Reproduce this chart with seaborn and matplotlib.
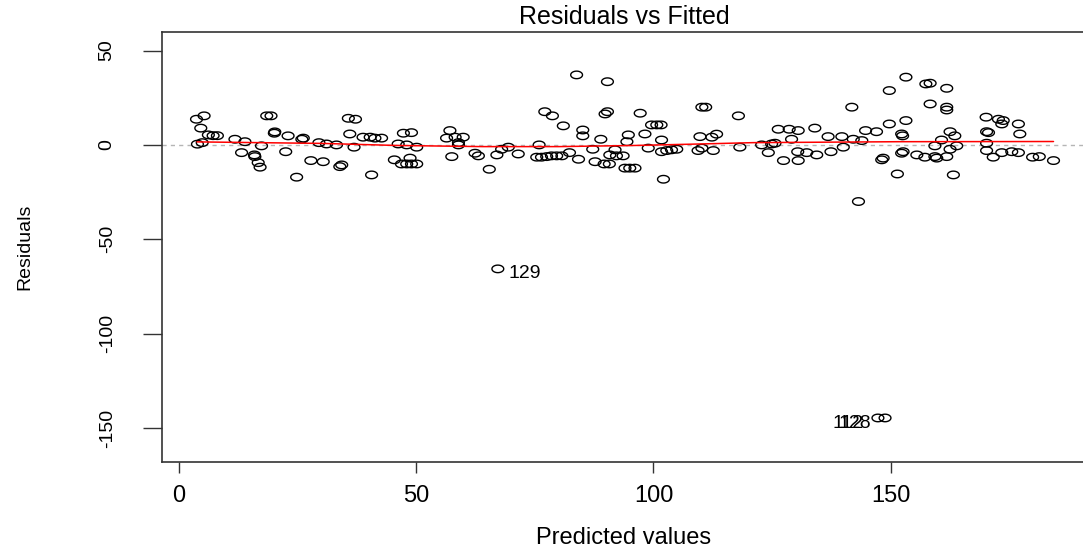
import numpy as np
import pandas as pd
import matplotlib
matplotlib.use('Agg')
import matplotlib.pyplot as plt
from matplotlib.path import Path
import seaborn as sns

# valores (fitted, residuo)
fitted = [3.7, 5.3, 4.6, 6.2, 7.2, 8.1, 3.9, 4.9, 11.8, 13.9,
          13.2, 15.9, 16.0, 16.7, 17.1, 17.4, 18.5, 19.4, 20.1, 20.2,
          23.0, 22.5, 25.9, 26.2, 24.8, 27.8, 30.4, 29.5, 31.1, 33.2,
          33.9, 34.3, 35.7, 37.2, 36.0, 36.9, 38.8, 40.3, 41.3, 42.7,
          40.6, 46.2, 45.4, 47.3, 49.0, 48.0, 50.1, 48.7, 46.9, 48.0,
          49.0, 50.1, 57.1, 56.4, 58.2, 59.9, 58.9, 58.9, 57.5, 62.4,
          63.1, 65.4, 67.0, 68.0, 69.4, 71.5, 75.9, 75.4, 76.4, 77.5,
          78.5, 79.6, 80.7, 82.3, 84.2, 87.2, 87.7, 89.6, 90.7, 91.9,
          90.8, 92.2, 93.6, 94.0, 95.0, 96.1, 83.8, 90.3, 77.1, 78.7,
          90.3, 89.8, 97.2, 81.0, 85.1, 85.1, 88.9, 94.7, 94.4, 98.2,
          99.6, 100.7, 101.6, 101.7, 98.9, 101.7, 102.8, 103.8, 104.9, 102.1,
          110.2, 111.0, 117.9, 109.8, 112.3, 113.3, 109.4, 110.2, 112.6, 118.2,
          122.8, 124.9, 125.6, 124.2, 126.3, 128.6, 130.5, 134.0, 129.1, 127.4,
          130.5, 130.4, 132.3, 134.4, 136.8, 139.7, 142.1, 143.9, 137.4, 140.0,
          144.7, 141.8, 147.0, 153.2, 157.4, 158.3, 161.8, 149.7, 158.3, 161.8,
          161.8, 149.7, 153.2, 152.3, 152.5, 148.4, 148.1, 151.4, 152.6, 152.3,
          155.5, 157.2, 159.3, 159.7, 159.3, 160.7, 162.5, 163.5, 163.9, 162.5,
          161.8, 163.2, 170.1, 172.7, 173.7, 173.4, 176.9, 170.2, 170.6, 177.2,
          170.2, 170.2, 171.6, 173.4, 175.5, 176.9, 179.9, 181.3, 184.3, 143.2]
residuals = [13.6, 15.4, 8.9, 5.3, 4.9, 4.9, 0.4, 1.2, 3.0, 1.7,
             -4.1, -5.3, -6.2, -9.4, -11.8, -0.5, 15.4, 15.4, 6.2, 6.9,
             4.8, -3.6, 3.0, 3.6, -17.1, -8.3, -8.9, 1.2, 0.5, 0.0,
             -11.5, -10.6, 14.1, 13.6, 5.8, -1.2, 4.1, 4.1, 3.6, 3.6,
             -15.9, 0.5, -7.9, 6.2, 6.5, 0.0, -1.2, -7.0, -10.1, -10.1,
             -10.1, -10.1, 7.6, 3.6, 4.1, 4.1, 1.2, 0.0, -6.2, -4.4,
             -5.8, -12.9, -5.3, -2.3, -1.2, -4.8, 0.0, -6.5, -6.5, -6.2,
             -5.8, -5.8, -5.8, -4.1, -7.6, -2.3, -8.9, -10.1, -10.1, -2.6,
             -5.3, -5.8, -5.8, -12.3, -12.3, -12.3, 37.1, 33.5, 17.6, 15.4,
             17.6, 16.4, 16.8, 10.1, 7.9, 4.8, 3.0, 5.3, 1.7, 5.8,
             10.6, 10.6, 10.6, 2.6, -1.7, -3.6, -3.0, -2.6, -2.3, -18.2,
             20.0, 20.0, 15.4, 4.4, 4.1, 5.7, -3.0, -1.7, -3.0, -1.2,
             0.0, 0.5, 0.9, -4.1, 8.3, 8.3, 7.6, 8.9, 3.0, -8.3,
             -8.3, -3.6, -4.1, -5.3, 4.4, 4.4, 3.0, 2.3, -3.6, -1.2,
             7.6, 20.0, 7.0, 35.9, 32.3, 32.7, 30.0, 28.8, 21.7, 20.0,
             18.5, 11.1, 12.9, 5.8, 4.8, -7.0, -7.9, -15.4, -3.6, -4.4,
             -5.3, -6.5, -6.2, -7.0, -0.5, 2.6, 7.0, 4.8, -0.5, -2.3,
             -6.2, -15.9, 14.7, 13.6, 12.9, 11.1, 11.1, 7.0, 6.5, 5.8,
             0.9, -3.0, -6.5, -4.1, -3.6, -4.1, -6.5, -6.2, -8.3, -30.0]

# observacoes identificadas no grafico
outlier_ids = ['129', '112', '128']
outlier_fitted = [67.2, 147.3, 148.8]
outlier_resid = [-65.7, -144.7, -144.7]

# curva suavizada (vermelha)
smooth_x = [3.8, 20, 30, 46, 64, 80, 96, 110, 121, 152, 184.3]
smooth_y = [1.6, 1.1, 0.8, -0.3, -0.9, -0.9, -0.3, 0.5, 1.2, 1.7, 1.8]

df = pd.DataFrame({'fitted': fitted + outlier_fitted,
                   'residuals': residuals + outlier_resid})

sns.set_theme(style='white')
plt.rcParams['font.family'] = ['Liberation Sans', 'DejaVu Sans']
plt.rcParams['axes.unicode_minus'] = False
plt.rcParams['text.color'] = 'black'
plt.rcParams['axes.labelcolor'] = 'black'
plt.rcParams['xtick.labelcolor'] = 'black'
plt.rcParams['ytick.labelcolor'] = 'black'

fig = plt.figure(figsize=(10.83, 5.52), dpi=100)
ax = fig.add_axes([0.1499, 0.1625, 0.8531, 0.7801])

# marcador "circulo" achatado como no original
t = np.linspace(0, 2 * np.pi, 60)
ellipse = Path(np.column_stack([np.cos(t), 0.64 * np.sin(t)]), closed=True)

ax.axhline(0, color='#b5b5b5', lw=1, ls=(0, (3, 3)), zorder=1)
sns.scatterplot(data=df, x='fitted', y='residuals', marker=ellipse, s=72,
                facecolor='none', edgecolor='black', linewidth=1.0,
                ax=ax, zorder=2)
sns.lineplot(x=smooth_x, y=smooth_y, color='red', lw=1.1, sort=False,
             estimator=None, ax=ax, zorder=3)

for lab, x, y in zip(outlier_ids, outlier_fitted, outlier_resid):
    if x < 100:
        ax.annotate(lab, (x, y), xytext=(8, -3.6), textcoords='offset points',
                    ha='left', va='center', fontsize=14)
    else:
        ax.annotate(lab, (x, y), xytext=(-10, -4.3), textcoords='offset points',
                    ha='right', va='center', fontsize=14)

ax.set_xlim(-3.5, 191.2)
ax.set_ylim(-168.2, 60.0)
ax.set_xticks([0, 50, 100, 150])
ax.set_yticks([50, 0, -50, -100, -150])

for s in ax.spines.values():
    s.set_color('#333333')
    s.set_linewidth(1.2)

ax.tick_params(axis='x', direction='out', length=8, width=1, color='#333333',
               pad=8, labelsize=17, bottom=True)
ax.tick_params(axis='y', direction='out', length=14, width=1, color='#333333',
               pad=19.6, labelsize=14, left=True)
for lbl in ax.get_yticklabels():
    lbl.set_rotation(90)
    lbl.set_va('center')

ax.set_title('Residuals vs Fitted', fontsize=18, y=1.034, pad=0, va='center')
ax.set_xlabel('Predicted values', fontsize=17)
ax.set_ylabel('Residuals', fontsize=14)
ax.xaxis.set_label_coords(0.4987, -0.1758)
ax.xaxis.label.set_va('center')
ax.yaxis.set_label_coords(-0.1486, 0.5)
ax.yaxis.label.set_va('center')

fig.savefig('out.png', dpi=100)
